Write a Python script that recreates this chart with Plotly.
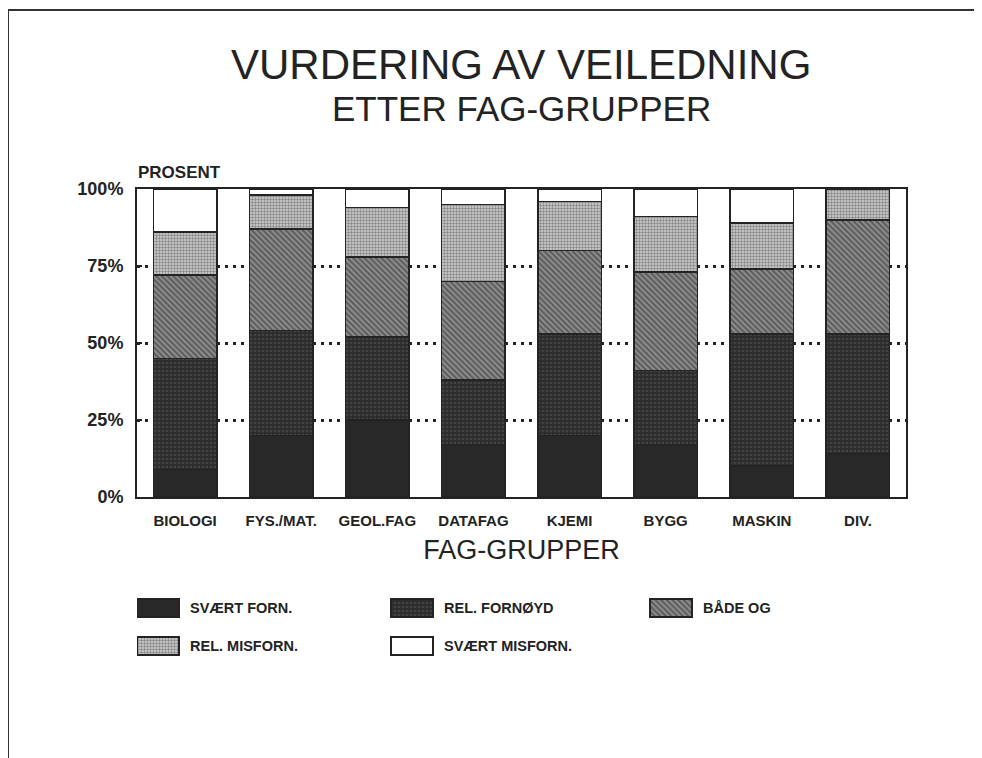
import plotly.graph_objects as go

# ---- data (percent) ----
categories = ["BIOLOGI", "FYS./MAT.", "GEOL.FAG", "DATAFAG", "KJEMI", "BYGG", "MASKIN", "DIV."]
series_names = ["SVÆRT FORN.", "REL. FORNØYD", "BÅDE OG", "REL. MISFORN.", "SVÆRT MISFORN."]
svaert_forn = [9, 20, 25, 17, 20, 17, 10, 14]
rel_fornoyd = [36, 34, 27, 21, 33, 24, 43, 39]
baade_og = [27, 33, 26, 32, 27, 32, 21, 37]
rel_misforn = [14, 11, 16, 25, 16, 18, 15, 10]
svaert_misforn = [14, 2, 6, 5, 4, 9, 11, 0]
y_tickvals = [0, 25, 50, 75, 100]
y_ticktext = ["0%", "25%", "50%", "75%", "100%"]

series_values = [svaert_forn, rel_fornoyd, baade_og, rel_misforn, svaert_misforn]

INK = "#232323"
FONT = "Liberation Sans, Arial, sans-serif"

styles = [
    dict(color="#282828"),
    dict(color="#2c2c2c", pattern=dict(shape=".", fgcolor="#5a5a5a", bgcolor="#2c2c2c", size=4, solidity=0.35)),
    dict(color="#777777", pattern=dict(shape="\\", fgcolor="#262626", bgcolor="#8e8e8e", size=4, solidity=0.5)),
    dict(color="#b5b5b5", pattern=dict(shape=".", fgcolor="#3a3a3a", bgcolor="#d2d2d2", size=3, solidity=0.5)),
    dict(color="#ffffff"),
]

# page has an 8px body margin: work in reference pixel coords, shift by OFF
OFF = 8
W, H = 982 - OFF, 758 - OFF
PL, PR, PT, PB = 137, 906, 189, 497          # main plot area in reference px
ML = PL - OFF
MR = W - (PR - OFF)
MT = PT - OFF
MB = 80
plot_h = H - MT - MB
plot_w = W - ML - MR


def py(ref_y):
    return (H - MB - (ref_y - OFF)) / plot_h


def px(ref_x):
    return (ref_x - OFF - ML) / plot_w


fig = go.Figure()
for name, vals, st in zip(series_names, series_values, styles):
    fig.add_trace(go.Bar(
        x=categories, y=vals, name=name,
        marker=dict(line=dict(color=INK, width=1.5), **st),
        showlegend=False, xaxis="x", yaxis="y",
    ))

# ---- legend swatches (on an overlay axis measured in reference pixels) ----
leg_cols = [137, 391, 650]
leg_rows = [608, 646]
sw_w, sw_h = 42, 18
leg_top_px, leg_bot_px = 585, 675
for i, (name, st) in enumerate(zip(series_names, styles)):
    r, c = divmod(i, 3)
    fig.add_trace(go.Bar(
        x=[sw_w], base=[leg_cols[c]], y=[leg_rows[r]], orientation="h", width=sw_h,
        marker=dict(line=dict(color=INK, width=1.5), **st),
        showlegend=False, hoverinfo="skip", xaxis="x2", yaxis="y2",
    ))
    fig.add_annotation(x=leg_cols[c] + sw_w + 9, y=leg_rows[r], xref="x2", yref="y2",
                       text=name, showarrow=False, xanchor="left", yanchor="middle",
                       font=dict(family=FONT, size=14.5, color=INK, weight="bold"))

fig.update_layout(
    width=W, height=H,
    margin=dict(l=ML, r=MR, t=MT, b=MB),
    paper_bgcolor="white", plot_bgcolor="white",
    barmode="stack", bargap=0.34,
    xaxis=dict(domain=[0, 1], anchor="y", showline=True, mirror=True, linecolor=INK, linewidth=2,
               ticks="", tickfont=dict(family=FONT, size=15, color=INK, weight="bold"),
               ticklabelstandoff=9,
               title=dict(text="FAG-GRUPPER", font=dict(family=FONT, size=27, color=INK), standoff=12)),
    yaxis=dict(domain=[py(PB), 1], anchor="x", range=[0, 100], showline=True, mirror=True,
               linecolor=INK, linewidth=2, tickvals=y_tickvals, ticktext=y_ticktext,
               ticks="inside", ticklen=5, tickcolor=INK, tickwidth=1.5,
               showgrid=True, gridcolor=INK, griddash="3px,5px", gridwidth=2.5,
               tickfont=dict(family=FONT, size=18, color=INK, weight="bold"), ticklabelstandoff=8,
               zeroline=False),
    xaxis2=dict(domain=[0, 1], anchor="y2", range=[PL, PR], visible=False, fixedrange=True),
    yaxis2=dict(domain=[py(leg_bot_px), py(leg_top_px)], anchor="x2",
                range=[leg_bot_px, leg_top_px], visible=False, fixedrange=True),
)

# titles and labels
fig.add_annotation(x=px(521), y=py(64), xref="paper", yref="paper", text="VURDERING AV VEILEDNING",
                   showarrow=False, xanchor="center", yanchor="middle",
                   font=dict(family=FONT, size=42, color=INK))
fig.add_annotation(x=px(521), y=py(108), xref="paper", yref="paper", text="ETTER FAG-GRUPPER",
                   showarrow=False, xanchor="center", yanchor="middle",
                   font=dict(family=FONT, size=35, color=INK))
fig.add_annotation(x=px(136), y=py(172), xref="paper", yref="paper", text="PROSENT",
                   showarrow=False, xanchor="left", yanchor="middle",
                   font=dict(family=FONT, size=17, color=INK, weight="bold"))

# outer frame (bottom edge falls outside the picture)
fig.add_shape(type="rect", xref="paper", yref="paper",
              x0=px(8), x1=px(975), y0=py(790), y1=py(10),
              line=dict(color="#333333", width=2), fillcolor="rgba(0,0,0,0)", layer="below")

fig.write_html("out.html")
